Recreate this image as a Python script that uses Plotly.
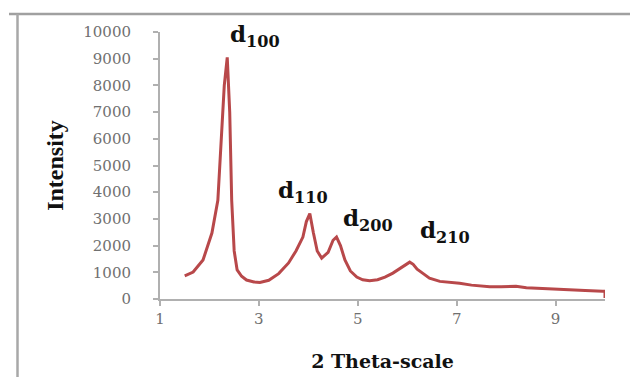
import plotly.graph_objects as go

two_theta = [1.50, 1.67, 1.87, 2.05, 2.17, 2.25, 2.30, 2.36, 2.41, 2.45, 2.50, 2.56, 2.65, 2.75,
             2.90, 3.02, 3.20, 3.40, 3.60, 3.75, 3.89, 3.96, 4.03, 4.10, 4.18, 4.27, 4.40, 4.50,
             4.57, 4.65, 4.74, 4.85, 4.98, 5.10, 5.24, 5.40, 5.55, 5.71, 5.90, 6.05, 6.12, 6.20,
             6.31, 6.45, 6.66, 6.85, 7.06, 7.30, 7.50, 7.67, 7.90, 8.20, 8.41, 8.70, 9.01, 9.30,
             9.60, 9.95, 10.0, 10.0]
intensity = [870, 1010, 1460, 2470, 3700, 6300, 8000, 9050, 7000, 3700, 1800, 1090, 850, 710,
             640, 620, 700, 950, 1350, 1800, 2320, 2900, 3200, 2500, 1800, 1530, 1750, 2200,
             2320, 2000, 1460, 1050, 820, 720, 680, 720, 820, 970, 1200, 1380, 1300, 1120,
             970, 780, 660, 630, 590, 520, 480, 460, 460, 480, 420, 390, 375, 350,
             320, 290, 290, 40]

x_ticks = [1, 3, 5, 7, 9]
y_ticks = [0, 1000, 2000, 3000, 4000, 5000, 6000, 7000, 8000, 9000, 10000]

peak_labels = ["<b>d<sub>100</sub></b>", "<b>d<sub>110</sub></b>", "<b>d<sub>200</sub></b>", "<b>d<sub>210</sub></b>"]
peak_label_x = [2.92, 3.89, 5.20, 6.76]
peak_label_y = [9880, 4040, 2960, 2510]

fig = go.Figure()
fig.add_trace(go.Scatter(x=two_theta, y=intensity, mode="lines", cliponaxis=False,
                         line=dict(color="#b8484a", width=3), showlegend=False))

for t, xx, yy in zip(peak_labels, peak_label_x, peak_label_y):
    fig.add_annotation(x=xx, y=yy, xref="x", yref="y", text=t, showarrow=False,
                       font=dict(family="DejaVu Serif", size=23, color="#111111"),
                       xanchor="center", yanchor="middle")

axis_common = dict(showline=True, linecolor="#b0b0b0", linewidth=2, ticks="outside",
                   ticklen=5, tickwidth=1.5, tickcolor="#b0b0b0", showgrid=False, zeroline=False,
                   automargin=False,
                   tickfont=dict(family="DejaVu Serif", size=15, color="#707070"))

fig.update_xaxes(range=[1, 10], tickvals=x_ticks, ticktext=[str(v) for v in x_ticks],
                 ticklabelstandoff=0,
                 title=dict(text="<b>2 Theta-scale</b>", font=dict(family="DejaVu Serif", size=19, color="#111111"),
                            standoff=28),
                 **axis_common)
fig.update_yaxes(range=[0, 10000], tickvals=y_ticks, ticktext=[str(v) for v in y_ticks],
                 ticklabelstandoff=19,
                 title=dict(text="<b>Intensity</b>", font=dict(family="Liberation Serif", size=24, color="#111111"),
                            standoff=13),
                 **axis_common)

# outer frame: top line and left line
top_y = (299 - 14) / 267
left_x = (17.5 - 160) / 445
fig.add_shape(type="line", xref="paper", yref="paper", layer="above",
              x0=(9 - 160) / 445, x1=(630 - 160) / 445, y0=top_y, y1=top_y,
              line=dict(color="#a0a0a0", width=2.5))
fig.add_shape(type="line", xref="paper", yref="paper", layer="above",
              x0=left_x, x1=left_x, y0=top_y, y1=(299 - 377) / 267,
              line=dict(color="#a8a8a8", width=2.5))

fig.update_layout(width=631, height=377, margin=dict(l=160, r=26, t=32, b=78),
                  plot_bgcolor="white", paper_bgcolor="white")

fig.write_html("out.html", post_script="document.body.style.margin='0';",
               config={"displayModeBar": False})
